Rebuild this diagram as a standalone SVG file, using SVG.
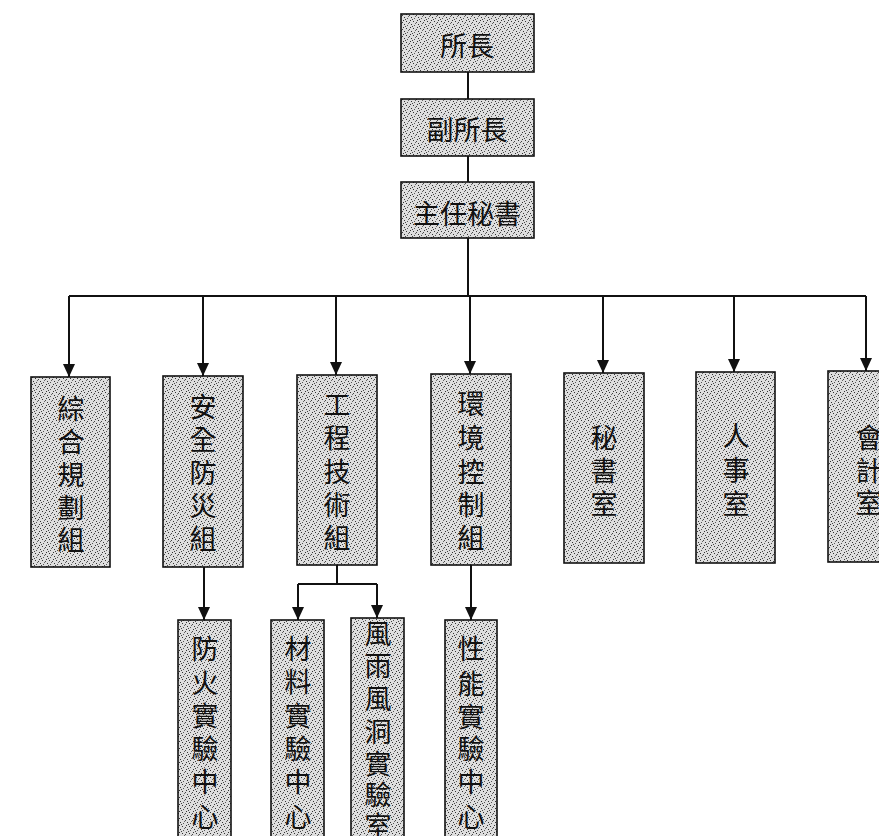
<svg xmlns="http://www.w3.org/2000/svg" width="879" height="836" viewBox="0 0 879 836">
<style>
.box{fill:url(#stip);stroke:#111;stroke-width:1.6}
.t{font-family:"Noto Sans CJK TC","Noto Sans CJK SC",sans-serif;font-size:27px;fill:#111;text-anchor:middle;dominant-baseline:central}
.c{fill:none;stroke:#111;stroke-width:2}
.a{fill:none;stroke:#111;stroke-width:2;marker-end:url(#arr)}
</style>
<defs>
<pattern id="stip" width="7" height="7" patternUnits="userSpaceOnUse">
<rect width="7" height="7" fill="#dedede"/>
<rect x="0" y="0" width="1" height="1" fill="#333"/>
<rect x="3" y="1" width="1" height="1" fill="#444"/>
<rect x="5" y="3" width="1" height="1" fill="#333"/>
<rect x="1" y="4" width="1" height="1" fill="#555"/>
<rect x="4" y="6" width="1" height="1" fill="#333"/>
<rect x="6" y="5" width="1" height="1" fill="#444"/>
<rect x="2" y="2" width="1" height="1" fill="#666"/>
</pattern>
<marker id="arr" markerWidth="13" markerHeight="12" refX="13" refY="6" orient="auto" markerUnits="userSpaceOnUse">
<path d="M0,0 L13,6 L0,12 z" fill="#111"/>
</marker>
</defs>
<rect width="879" height="836" fill="#fff"/>
<g id="connectors">
<path class="c" d="M468,72 V99 M468,156 V182 M468,238 V296"/>
<path class="c" d="M69,296 H866"/>
<path class="a" d="M69,296 V377"/>
<path class="a" d="M203,296 V376"/>
<path class="a" d="M336,296 V375"/>
<path class="a" d="M470,296 V374"/>
<path class="a" d="M603,296 V373"/>
<path class="a" d="M734,296 V372"/>
<path class="a" d="M866,296 V371"/>
<path class="a" d="M204,567 V620"/>
<path class="c" d="M337,565 V584 M298,584 H377"/>
<path class="a" d="M298,584 V620"/>
<path class="a" d="M377,584 V618"/>
<path class="a" d="M471,565 V620"/>
</g>
<g id="n-suozhang"><rect class="box" x="401" y="14" width="133" height="58"/><text class="t" x="467" y="44">所長</text></g>
<g id="n-fusuozhang"><rect class="box" x="401" y="99" width="133" height="57"/><text class="t" x="467" y="128">副所長</text></g>
<g id="n-zhurenmishu"><rect class="box" x="401" y="182" width="133" height="56"/><text class="t" x="467" y="212">主任秘書</text></g>
<g id="n-zonghe"><rect class="box" x="31" y="377" width="79" height="190"/>
<text class="t"><tspan x="71" y="407">綜</tspan><tspan x="71" y="440">合</tspan><tspan x="71" y="473">規</tspan><tspan x="71" y="506">劃</tspan><tspan x="71" y="538">組</tspan></text></g>
<g id="n-anquan"><rect class="box" x="163" y="376" width="80" height="191"/>
<text class="t"><tspan x="203" y="405">安</tspan><tspan x="203" y="438">全</tspan><tspan x="203" y="471">防</tspan><tspan x="203" y="504">災</tspan><tspan x="203" y="537">組</tspan></text></g>
<g id="n-gongcheng"><rect class="box" x="297" y="375" width="80" height="190"/>
<text class="t"><tspan x="337" y="403">工</tspan><tspan x="337" y="436">程</tspan><tspan x="337" y="470">技</tspan><tspan x="337" y="503">術</tspan><tspan x="337" y="536">組</tspan></text></g>
<g id="n-huanjing"><rect class="box" x="431" y="374" width="80" height="191"/>
<text class="t"><tspan x="471" y="402">環</tspan><tspan x="471" y="436">境</tspan><tspan x="471" y="470">控</tspan><tspan x="471" y="503">制</tspan><tspan x="471" y="536">組</tspan></text></g>
<g id="n-mishu"><rect class="box" x="564" y="373" width="80" height="190"/>
<text class="t"><tspan x="604" y="436">秘</tspan><tspan x="604" y="469">書</tspan><tspan x="604" y="502">室</tspan></text></g>
<g id="n-renshi"><rect class="box" x="696" y="372" width="79" height="191"/>
<text class="t"><tspan x="736" y="434">人</tspan><tspan x="736" y="468">事</tspan><tspan x="736" y="502">室</tspan></text></g>
<g id="n-kuaiji"><rect class="box" x="828" y="371" width="80" height="191"/>
<text class="t"><tspan x="869" y="436">會</tspan><tspan x="869" y="469">計</tspan><tspan x="869" y="501">室</tspan></text></g>
<g id="n-fanghuo"><rect class="box" x="178" y="620" width="53" height="222"/>
<text class="t"><tspan x="205" y="647">防</tspan><tspan x="205" y="681">火</tspan><tspan x="205" y="714">實</tspan><tspan x="205" y="747">驗</tspan><tspan x="205" y="780">中</tspan><tspan x="205" y="815">心</tspan></text></g>
<g id="n-cailiao"><rect class="box" x="271" y="620" width="53" height="222"/>
<text class="t"><tspan x="298" y="647">材</tspan><tspan x="298" y="680">料</tspan><tspan x="298" y="714">實</tspan><tspan x="298" y="747">驗</tspan><tspan x="298" y="780">中</tspan><tspan x="298" y="815">心</tspan></text></g>
<g id="n-fengyu"><rect class="box" x="351" y="618" width="53" height="224"/>
<text class="t"><tspan x="378" y="632">風</tspan><tspan x="378" y="664">雨</tspan><tspan x="378" y="697">風</tspan><tspan x="378" y="730">洞</tspan><tspan x="378" y="762">實</tspan><tspan x="378" y="793">驗</tspan><tspan x="378" y="824">室</tspan></text></g>
<g id="n-xingneng"><rect class="box" x="445" y="620" width="52" height="222"/>
<text class="t"><tspan x="471" y="647">性</tspan><tspan x="471" y="682">能</tspan><tspan x="471" y="715">實</tspan><tspan x="471" y="747">驗</tspan><tspan x="471" y="780">中</tspan><tspan x="471" y="815">心</tspan></text></g>
</svg>
